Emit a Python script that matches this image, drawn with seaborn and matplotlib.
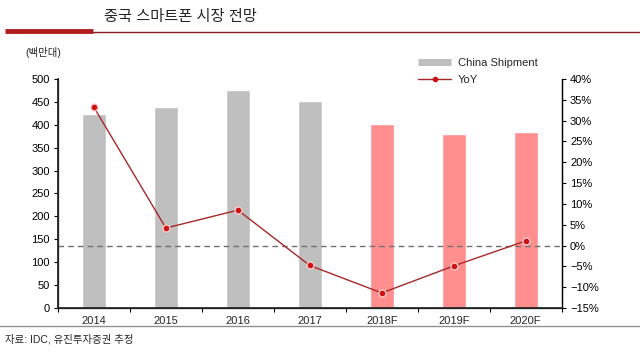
import numpy as np
import seaborn as sns
import matplotlib.pyplot as plt
from matplotlib.lines import Line2D
from matplotlib.ticker import FuncFormatter, FixedLocator

years = ["2014", "2015", "2016", "2017", "2018F", "2019F", "2020F"]
shipment = [423, 439, 477, 452, 401, 379, 385]
yoy = [33.2, 4.2, 8.5, -4.8, -11.4, -4.9, 1.1]
bar_colors = ["#BFBFBF"] * 4 + ["#FF8F8F"] * 3

sns.set_theme(style="white")
plt.rcParams["font.family"] = ["Liberation Sans", "Noto Sans CJK KR", "DejaVu Sans"]

fig = plt.figure(figsize=(6.4, 3.61), dpi=100)
ax = fig.add_axes([0.0906, 0.147, 0.787, 0.634])

sns.barplot(x=years, y=shipment, hue=years, palette=bar_colors, width=0.33,
            legend=False, ax=ax, saturation=1)
ax.set_ylim(0, 500)
ax.set_xlim(-0.5, 6.5)
ax.set_yticks(np.arange(0, 501, 50))
ax.tick_params(axis="y", direction="out", length=3, width=0.8, labelsize=8, pad=3,
               left=True, colors="black")
ax.tick_params(axis="x", which="major", length=0, labelsize=8, pad=6)
ax.xaxis.set_minor_locator(FixedLocator(np.arange(-0.5, 7, 1)))
ax.tick_params(axis="x", which="minor", direction="out", length=3, width=0.8,
               bottom=True, color="black")
for s in ["left", "bottom", "right"]:
    ax.spines[s].set_color("black")
    ax.spines[s].set_linewidth(0.9)
ax.spines["top"].set_visible(False)
ax.set_xlabel("")
ax.set_ylabel("")

ax2 = ax.twinx()
ax2.axhline(0, color="#707070", linestyle=(0, (4, 3)), linewidth=1)
sns.lineplot(x=np.arange(len(years)), y=yoy, ax=ax2, color="#A82828", linewidth=1,
             marker="o", markersize=5, markerfacecolor="#CC1111",
             markeredgecolor="#FFC8C8", markeredgewidth=1)
ax2.set_ylim(-15, 40)
ax2.set_yticks(np.arange(-15, 41, 5))
ax2.yaxis.set_major_formatter(FuncFormatter(
    lambda v, p: f"{int(v)}%".replace("-", "\u2212")))
ax2.tick_params(axis="y", direction="out", length=3, width=0.8, labelsize=8, pad=3,
                right=True, colors="black")
ax2.spines["top"].set_visible(False)
ax2.spines["right"].set_color("black")
ax2.spines["right"].set_linewidth(0.9)
ax2.set_xlim(-0.5, 6.5)
ax2.set_ylabel("")

handles = [Line2D([], [], color="#BFBFBF", linewidth=5, solid_capstyle="butt"),
           Line2D([], [], color="#A82828", linewidth=1, marker="o", markersize=3,
                  markerfacecolor="#CC1111", markeredgecolor="#CC1111")]
fig.legend(handles, ["China Shipment", "YoY"], loc="upper left",
           bbox_to_anchor=(408 / 640, 1 - 48 / 361), frameon=False, fontsize=8,
           handlelength=3, labelspacing=0.6, handletextpad=0.6)

# header
fig.text(180 / 640, 1 - 17 / 361, "중국 스마트폰 시장 전망", ha="center", va="center",
         fontsize=11, fontweight="medium")
fig.add_artist(Line2D([5 / 640, 93 / 640], [1 - 31 / 361] * 2, color="#B01E1E",
                      linewidth=3.5, solid_capstyle="butt"))
fig.add_artist(Line2D([93 / 640, 1], [1 - 31.5 / 361] * 2, color="#8B1A1A",
                      linewidth=1))
fig.text(25 / 640, 1 - 53 / 361, "(백만대)", ha="left", va="center", fontsize=7.5)

# footer
fig.add_artist(Line2D([0, 1], [1 - 326 / 361] * 2, color="#909090", linewidth=1))
fig.text(5 / 640, 1 - 339 / 361, "자료: IDC, 유진투자증권 추정", ha="left", va="center",
         fontsize=7.5)

fig.savefig("out.png", dpi=100)
